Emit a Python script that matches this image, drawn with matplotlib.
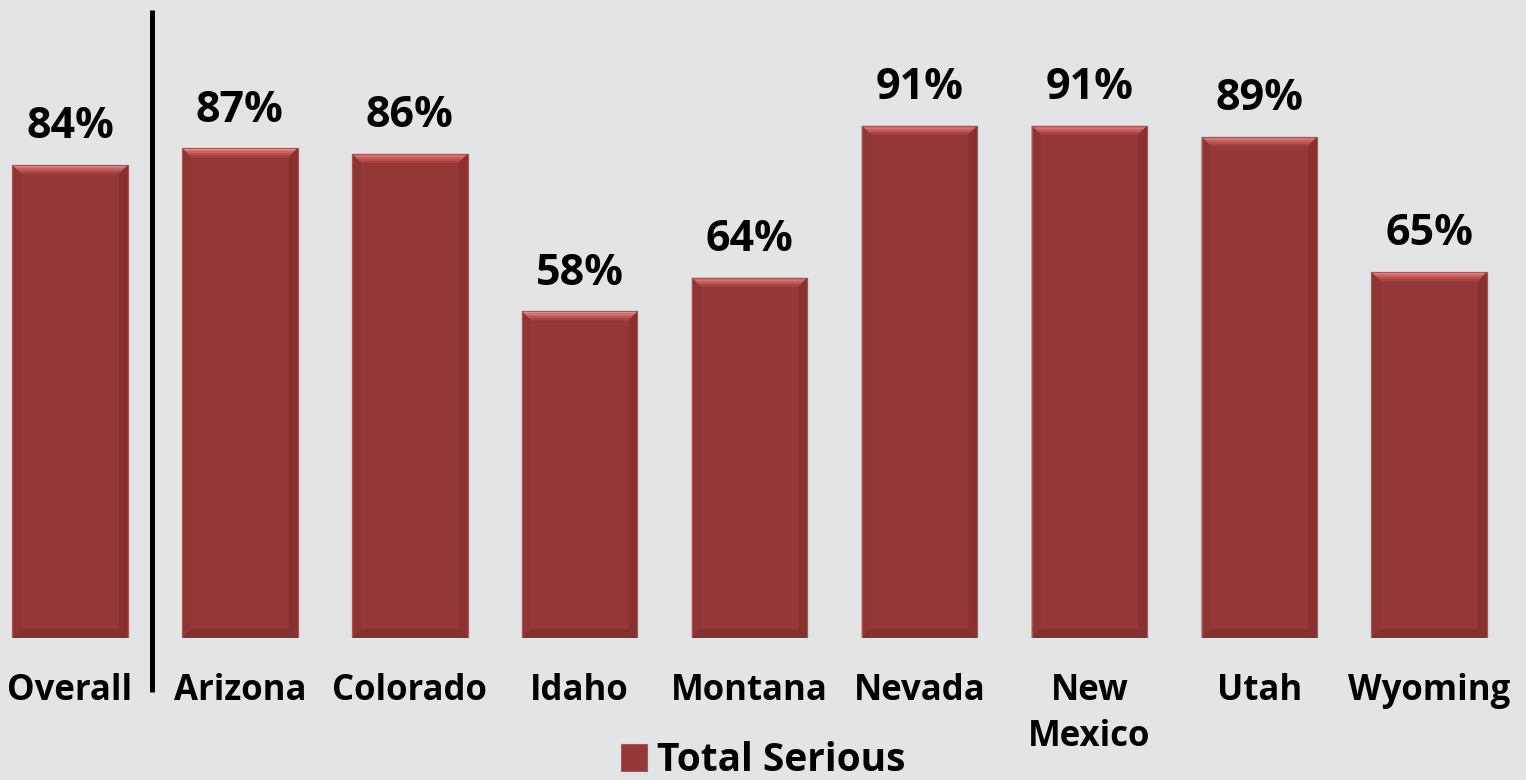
import matplotlib
matplotlib.use("Agg")
import matplotlib.pyplot as plt
from matplotlib.patches import Polygon

categories = ["Overall", "Arizona", "Colorado", "Idaho", "Montana", "Nevada", "New\nMexico", "Utah", "Wyoming"]
values = [84, 87, 86, 58, 64, 91, 91, 89, 65]
series_name = "Total Serious"

BG = "#e3e4e6"
BAR = "#953837"
FONT = "Open Sans"

fig = plt.figure(figsize=(15.26, 7.8), dpi=100, facecolor=BG)
ax = fig.add_axes([0, 1 - 638 / 780, 1, (638 - 75) / 780])
ax.set_facecolor(BG)

x = list(range(len(categories)))
bars = ax.bar(x, values, width=0.68, color=BAR, edgecolor="#a85654", linewidth=0.8,
              label=series_name, zorder=2)

ax.set_xlim(-70 / 169.9, (1526 - 70) / 169.9)
ax.set_ylim(0, 100)

# bevel effect on bars
dx = 9 / 169.9
dy = 9 / 5.63
for b in bars:
    x0, y0, w, h = b.get_x(), b.get_y(), b.get_width(), b.get_height()
    x1, y1 = x0 + w, y0 + h
    steps = 5
    cols = ["#ea8f8d", "#da7775", "#ca6361", "#b8524f", "#a74341"]
    for i in range(steps):
        t0 = i / steps
        t1 = (i + 1) / steps
        poly = Polygon([(x0 + dx * t0, y1 - dy * t0), (x1 - dx * t0, y1 - dy * t0),
                        (x1 - dx * t1, y1 - dy * t1), (x0 + dx * t1, y1 - dy * t1)],
                       closed=True, facecolor=cols[i], edgecolor="none", zorder=3)
        ax.add_patch(poly)
    ax.add_patch(Polygon([(x1, y1), (x1 - dx, y1 - dy), (x1 - dx, y0 + dy), (x1, y0)],
                         closed=True, facecolor="#8a3130", edgecolor="none", zorder=3))
    ax.add_patch(Polygon([(x0, y1), (x0 + dx, y1 - dy), (x0 + dx, y0 + dy), (x0, y0)],
                         closed=True, facecolor="#8f3534", edgecolor="none", zorder=3))
    ax.add_patch(Polygon([(x0, y0), (x0 + dx, y0 + dy), (x1 - dx, y0 + dy), (x1, y0)],
                         closed=True, facecolor="#843030", edgecolor="none", zorder=3))
    ax.add_patch(Polygon([(x0, y0), (x1, y0), (x1, y1), (x0, y1)], closed=True,
                         facecolor="none", edgecolor="#a85654", linewidth=0.8, zorder=4))

ax.bar_label(bars, labels=[f"{v}%" for v in values], padding=12,
             fontsize=31, fontweight="bold", family=FONT, color="black")

ax.set_xticks(x)
ax.set_xticklabels(categories, fontsize=25, fontweight="bold", family=FONT,
                   linespacing=1.38, va="top")
ax.tick_params(axis="x", length=0, pad=25)
ax.tick_params(axis="y", left=False, labelleft=False)
for s in ax.spines.values():
    s.set_visible(False)

sep_x = (152 - 70) / 169.9
ax.plot([sep_x, sep_x], [(638 - 692) / 5.63, (638 - 10) / 5.63], color="black",
        linewidth=3.6, clip_on=False, zorder=5, solid_capstyle="butt")

leg = fig.legend(handles=[bars[0]], labels=[series_name], loc="lower center",
                 bbox_to_anchor=(763 / 1526, 0.0), frameon=False, borderaxespad=0,
                 borderpad=0.0,
                 prop={"family": FONT, "weight": "bold", "size": 28},
                 handlelength=0.68, handleheight=0.68, handletextpad=0.25)

fig.savefig("out.png", dpi=100, facecolor=BG)
